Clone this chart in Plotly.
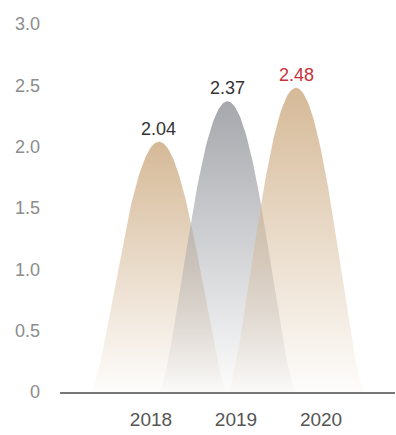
import numpy as np
import plotly.graph_objects as go

years = ["2018", "2019", "2020"]
values = [2.04, 2.37, 2.48]
label_colors = ["#333333", "#333333", "#c9303b"]
top_colors = [(212, 183, 148), (163, 165, 170), (212, 183, 148)]
y_ticks = [0, 0.5, 1.0, 1.5, 2.0, 2.5, 3.0]
y_ticktext = ["0", "0.5", "1.0", "1.5", "2.0", "2.5", "3.0"]

FONT = "Liberation Sans, Arial, sans-serif"
fig = go.Figure()

u = np.linspace(-1, 1, 161)
for i, (yr, v, c) in enumerate(zip(years, values, top_colors)):
    xs = i + u
    ys = v * (1 - u ** 2) ** 1.6
    r, g, b = c
    fig.add_trace(go.Scatter(
        x=xs, y=ys, xaxis="x2", yaxis="y",
        mode="lines", line=dict(width=0),
        fill="tozeroy",
        fillgradient=dict(
            type="vertical",
            colorscale=[[0, f"rgba({r},{g},{b},0.03)"], [1, f"rgba({r},{g},{b},0.97)"]],
            start=0, stop=v,
        ),
        hoverinfo="skip", showlegend=False,
    ))
    fig.add_annotation(
        x=i, y=v, xref="x2", yref="y", text=f"{v:.2f}",
        showarrow=False, yanchor="bottom", yshift=1,
        font=dict(family=FONT, size=18, color=label_colors[i]),
    )

# invisible trace to activate the label axis
fig.add_trace(go.Scatter(x=[0, 1, 2], y=[None, None, None], xaxis="x", yaxis="y",
                         mode="markers", showlegend=False, hoverinfo="skip"))

fig.update_layout(
    width=396, height=435,
    margin=dict(l=60, r=1, t=24, b=43),
    paper_bgcolor="white", plot_bgcolor="white",
    showlegend=False,
    xaxis=dict(
        range=[-1.07, 2.87], tickvals=[0, 1, 2], ticktext=years,
        showgrid=False, zeroline=False, showline=True, linecolor="#777777", linewidth=1.5,
        ticks="", ticklabelstandoff=9,
        tickfont=dict(family=FONT, size=19, color="#555555"),
    ),
    xaxis2=dict(
        range=[-1.445, 3.445], overlaying="x", visible=False,
    ),
    yaxis=dict(
        range=[0, 3.0], tickvals=y_ticks, ticktext=y_ticktext,
        showgrid=False, zeroline=False, showline=False, ticks="",
        ticklabelstandoff=19,
        tickfont=dict(family=FONT, size=18, color="#8c8c8c"),
    ),
)

fig.write_html("out.html")
